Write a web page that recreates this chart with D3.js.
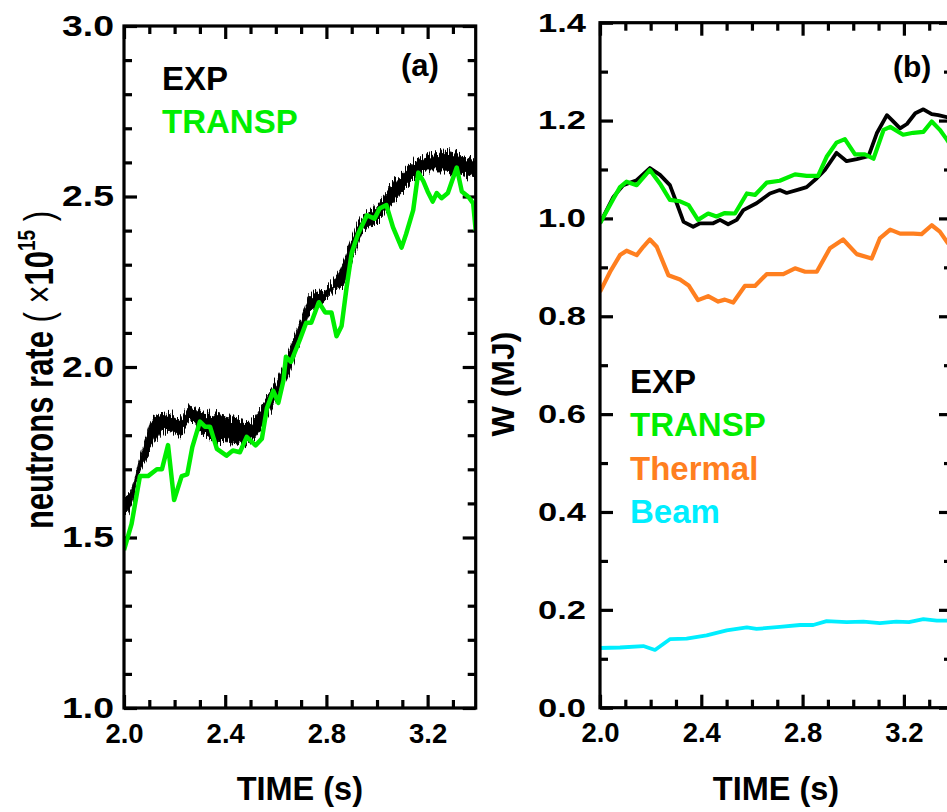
<!DOCTYPE html>
<html>
<head>
<meta charset="utf-8">
<script src="https://cdn.jsdelivr.net/npm/d3@7"></script>
<style>
  html, body { margin: 0; padding: 0; background: #fff; }
  svg { display: block; }
  text { font-family: "Liberation Sans", Arial, sans-serif; font-weight: bold; }
</style>
</head>
<body>
<svg id="chart" width="947" height="812"></svg>
<script>
// ---------------- DATA ----------------
// Panel (a): neutron rate (x1e15)
const expA_time  = [2.00,2.03,2.063,2.09,2.115,2.17,2.22,2.26,2.30,2.37,2.43,2.485,2.525,2.565,2.60,2.656,2.695,2.735,2.775,2.827,2.867,2.906,2.946,2.985,3.038,3.09,3.143,3.197,3.26,3.328,3.39];
const expA_upper = [1.62,1.64,1.730,1.800,1.855,1.865,1.850,1.885,1.868,1.858,1.848,1.840,1.860,1.915,1.955,2.050,2.130,2.208,2.220,2.250,2.305,2.385,2.445,2.462,2.512,2.562,2.600,2.622,2.630,2.620,2.602];
const expA_lower = [1.56,1.595,1.695,1.735,1.775,1.812,1.800,1.842,1.812,1.785,1.783,1.772,1.800,1.852,1.908,1.988,2.076,2.165,2.182,2.222,2.242,2.322,2.400,2.418,2.459,2.506,2.546,2.575,2.575,2.566,2.554];

const transpA_time = [2.0,2.03,2.063,2.095,2.13,2.15,2.174,2.198,2.228,2.25,2.27,2.30,2.32,2.34,2.367,2.405,2.43,2.458,2.485,2.52,2.545,2.565,2.59,2.61,2.63,2.64,2.66,2.695,2.72,2.74,2.77,2.795,2.82,2.84,2.86,2.88,2.90,2.925,2.96,2.99,3.01,3.037,3.063,3.097,3.115,3.143,3.163,3.183,3.20,3.22,3.236,3.255,3.28,3.315,3.335,3.36,3.38,3.39];
const transpA_val  = [1.463,1.54,1.68,1.68,1.70,1.70,1.771,1.61,1.68,1.685,1.765,1.84,1.825,1.825,1.76,1.74,1.755,1.75,1.795,1.77,1.79,1.88,1.93,1.895,1.96,2.03,2.015,2.08,2.13,2.13,2.19,2.16,2.16,2.09,2.12,2.235,2.335,2.39,2.445,2.435,2.465,2.475,2.41,2.35,2.39,2.46,2.57,2.545,2.515,2.485,2.51,2.495,2.51,2.585,2.515,2.50,2.48,2.40];

// Panel (b): stored energy W (MJ)
const expB_time = [2.0,2.053,2.092,2.145,2.197,2.237,2.276,2.303,2.33,2.368,2.395,2.447,2.474,2.506,2.54,2.566,2.618,2.671,2.71,2.737,2.79,2.816,2.856,2.888,2.934,2.974,3.014,3.06,3.093,3.133,3.153,3.185,3.212,3.245,3.277,3.31,3.336,3.37,3.39];
const expB_val  = [0.99,1.044,1.068,1.078,1.103,1.089,1.068,1.031,0.993,0.983,0.99,0.99,0.997,0.988,0.997,1.017,1.031,1.051,1.058,1.052,1.06,1.064,1.082,1.099,1.134,1.117,1.121,1.127,1.174,1.211,1.201,1.184,1.193,1.215,1.223,1.213,1.211,1.207,1.205];

const transpB_time = [2.0,2.053,2.079,2.105,2.145,2.197,2.237,2.276,2.316,2.35,2.387,2.427,2.46,2.493,2.533,2.58,2.612,2.658,2.71,2.77,2.816,2.861,2.895,2.934,2.967,3.007,3.046,3.08,3.12,3.146,3.197,3.237,3.277,3.31,3.342,3.37,3.39];
const transpB_val  = [0.99,1.04,1.064,1.075,1.068,1.099,1.071,1.038,1.035,1.027,0.997,1.01,1.004,1.011,1.01,1.051,1.048,1.073,1.077,1.09,1.087,1.087,1.126,1.155,1.162,1.131,1.131,1.122,1.181,1.187,1.171,1.175,1.177,1.198,1.181,1.161,1.145];

const thermalB_time = [2.0,2.04,2.079,2.105,2.145,2.171,2.197,2.224,2.27,2.316,2.35,2.387,2.427,2.467,2.493,2.526,2.572,2.612,2.658,2.724,2.77,2.81,2.856,2.908,2.96,3.014,3.073,3.105,3.146,3.185,3.237,3.27,3.31,3.342,3.37,3.39];
const thermalB_val  = [0.85,0.891,0.925,0.934,0.925,0.942,0.957,0.942,0.884,0.875,0.863,0.833,0.841,0.83,0.834,0.828,0.862,0.862,0.886,0.886,0.898,0.891,0.891,0.939,0.957,0.927,0.918,0.959,0.977,0.969,0.969,0.968,0.986,0.973,0.952,0.94];

const beamB_time = [2.0,2.079,2.171,2.217,2.276,2.342,2.421,2.5,2.58,2.618,2.71,2.79,2.842,2.895,2.974,3.04,3.105,3.17,3.22,3.277,3.33,3.37,3.39];
const beamB_val  = [0.122,0.123,0.126,0.118,0.14,0.141,0.148,0.158,0.164,0.161,0.165,0.169,0.169,0.177,0.175,0.176,0.173,0.176,0.175,0.181,0.178,0.178,0.178];

// Ticks / labels
const xMajorTicks = [2.0, 2.4, 2.8, 3.2];
const aYMajorTicks = [1.0, 1.5, 2.0, 2.5, 3.0];
const bYMajorTicks = [0.0, 0.2, 0.4, 0.6, 0.8, 1.0, 1.2, 1.4];
const xTitle = "TIME (s)";
const aYTitle = "neutrons rate ";
const bYTitle = "W (MJ)";
const legendA = [{name:"EXP", color:"#000000"}, {name:"TRANSP", color:"#00ee00"}];
const legendB = [{name:"EXP", color:"#000000"}, {name:"TRANSP", color:"#00ee00"},
                 {name:"Thermal", color:"#ff7f1f"}, {name:"Beam", color:"#00eeff"}];

// ---------------- DRAW ----------------
const svg = d3.select("#chart");
const GREEN = "#00ee00", ORANGE = "#ff7f1f", CYAN = "#00eeff";

// texture filter for the noisy experimental trace (vertical jitter only)
const defs = svg.append("defs");
const flt = defs.append("filter").attr("id", "jitter").attr("x", "-5%").attr("y", "-20%").attr("width", "110%").attr("height", "140%");
flt.append("feTurbulence").attr("type", "fractalNoise").attr("baseFrequency", "0.9 0.03").attr("numOctaves", 2).attr("seed", 3).attr("result", "noise0");
flt.append("feColorMatrix").attr("in", "noise0").attr("type", "matrix")
  .attr("values", "0 0 0 0 0.5  0 1 0 0 0  0 0 1 0 0  0 0 0 0 1").attr("result", "noise");
flt.append("feDisplacementMap").attr("in", "SourceGraphic").attr("in2", "noise").attr("scale", 20)
  .attr("xChannelSelector", "R").attr("yChannelSelector", "G");

function makePanel(id, x, y, yMajor, yMinorStep, ylab) {
  const [x0, x1] = x.range();
  const [yb, yt] = y.range();
  const g = svg.append("g");
  const xMinor = d3.range(21, 34).map(v => v / 10).filter(v => !xMajorTicks.some(m => Math.abs(m - v) < 1e-6));
  const yd = y.domain();
  const yMinor = d3.range(Math.round(yd[0] * 10), Math.round(yd[1] * 10) + 1).map(v => v / 10)
    .filter(v => !yMajor.some(m => Math.abs(m - v) < 1e-6));
  const clean = s => s.call(a => a.select(".domain").remove());

  g.append("g").attr("transform", `translate(0,${yb})`)
    .call(d3.axisBottom(x).tickValues(xMajorTicks).tickFormat(d3.format(".1f")).tickSize(-13).tickPadding(15))
    .call(clean)
    .call(a => a.selectAll("text").attr("font-size", 27.5).attr("fill", "#000"));
  g.append("g").attr("transform", `translate(0,${yb})`)
    .call(d3.axisBottom(x).tickValues(xMinor).tickFormat("").tickSize(-8)).call(clean);
  g.append("g").attr("transform", `translate(0,${yt})`)
    .call(d3.axisTop(x).tickValues(xMajorTicks).tickFormat("").tickSize(-13)).call(clean);
  g.append("g").attr("transform", `translate(0,${yt})`)
    .call(d3.axisTop(x).tickValues(xMinor).tickFormat("").tickSize(-8)).call(clean);
  g.append("g").attr("transform", `translate(${x0},0)`)
    .call(d3.axisLeft(y).tickValues(yMajor).tickFormat(d3.format(".1f")).tickSize(-13).tickPadding(ylab.pad))
    .call(clean)
    .call(a => a.selectAll("text").attr("font-size", ylab.size).attr("fill", "#000")
      .attr("textLength", ylab.len).attr("lengthAdjust", "spacingAndGlyphs"));
  g.append("g").attr("transform", `translate(${x0},0)`)
    .call(d3.axisLeft(y).tickValues(yMinor).tickFormat("").tickSize(-8)).call(clean);
  g.append("g").attr("transform", `translate(${x1},0)`)
    .call(d3.axisRight(y).tickValues(yMajor).tickFormat("").tickSize(-13)).call(clean);
  g.append("g").attr("transform", `translate(${x1},0)`)
    .call(d3.axisRight(y).tickValues(yMinor).tickFormat("").tickSize(-8)).call(clean);

  g.selectAll(".tick line").attr("stroke", "#000").attr("stroke-width", 3.2);

  svg.append("clipPath").attr("id", "clip" + id).append("rect")
    .attr("x", x0).attr("y", yt).attr("width", x1 - x0).attr("height", yb - yt);

  const plot = svg.append("g").attr("clip-path", `url(#clip${id})`);
  svg.append("rect").attr("x", x0).attr("y", yt).attr("width", x1 - x0).attr("height", yb - yt)
    .attr("fill", "none").attr("stroke", "#000").attr("stroke-width", 3.2);

  svg.append("text").attr("x", (x0 + x1) / 2).attr("y", 800).attr("text-anchor", "middle")
    .attr("font-size", 32.5).attr("fill", "#000").text(xTitle);
  return plot;
}

// ---- Panel (a)
const xA = d3.scaleLinear().domain([2.0, 3.39]).range([124, 475.7]);
const yA = d3.scaleLinear().domain([1.0, 3.0]).range([708, 26]);
const plotA = makePanel("a", xA, yA, aYMajorTicks, 0.1, {size: 29.5, len: 52, pad: 10});

const expA = expA_time.map((t, i) => ({t, lo: expA_lower[i], hi: expA_upper[i]}));
plotA.append("path").datum(expA)
  .attr("d", d3.area().curve(d3.curveMonotoneX).x(d => xA(d.t)).y0(d => yA(d.lo)).y1(d => yA(d.hi)))
  .attr("fill", "#000").attr("stroke", "#000").attr("stroke-width", 1)
  .attr("filter", "url(#jitter)");

const trA = transpA_time.map((t, i) => ({t, v: transpA_val[i]}));
plotA.append("path").datum(trA)
  .attr("d", d3.line().x(d => xA(d.t)).y(d => yA(d.v)))
  .attr("fill", "none").attr("stroke", GREEN).attr("stroke-width", 4.5).attr("stroke-linejoin", "round");

legendA.forEach((l, i) => {
  svg.append("text").attr("x", 162).attr("y", 90 + i * 43).attr("font-size", 33)
    .attr("fill", l.color).text(l.name);
});
svg.append("text").attr("x", 401).attr("y", 76).attr("font-size", 31).attr("fill", "#000").text("(a)");

// y title (a)
const ta = svg.append("text").attr("transform", "translate(53,370) rotate(-90) scale(1,1.3)")
  .attr("text-anchor", "middle").attr("font-size", 31).attr("fill", "#000");
ta.append("tspan").text(aYTitle);
ta.append("tspan").attr("font-weight", "normal").text("( \u00d7");
ta.append("tspan").text("10");
ta.append("tspan").attr("font-size", 19).attr("dy", -14).text("15");
ta.append("tspan").attr("font-weight", "normal").attr("dy", 14).text(" )");

// ---- Panel (b)
const xB = d3.scaleLinear().domain([2.0, 3.39]).range([600, 952]);
const yB = d3.scaleLinear().domain([0.0, 1.4]).range([707.7, 22.7]);
const plotB = makePanel("b", xB, yB, bYMajorTicks, 0.1, {size: 26, len: 48, pad: 14});

const lineB = d3.line().x(d => xB(d.t)).y(d => yB(d.v));
function drawB(times, vals, color, w) {
  plotB.append("path").datum(times.map((t, i) => ({t, v: vals[i]})))
    .attr("d", lineB).attr("fill", "none").attr("stroke", color)
    .attr("stroke-width", w).attr("stroke-linejoin", "round");
}
drawB(beamB_time, beamB_val, CYAN, 3.8);
drawB(thermalB_time, thermalB_val, ORANGE, 4.2);
drawB(expB_time, expB_val, "#000", 3.8);
drawB(transpB_time, transpB_val, GREEN, 4.2);

legendB.forEach((l, i) => {
  svg.append("text").attr("x", 630).attr("y", 393 + i * 43.3).attr("font-size", 33)
    .attr("fill", l.color).text(l.name);
});
svg.append("text").attr("x", 893).attr("y", 77).attr("font-size", 30).attr("fill", "#000").text("(b)");

svg.append("text").attr("transform", "translate(514,384) rotate(-90)")
  .attr("text-anchor", "middle").attr("font-size", 32).attr("fill", "#000").text(bYTitle);
</script>
</body>
</html>
